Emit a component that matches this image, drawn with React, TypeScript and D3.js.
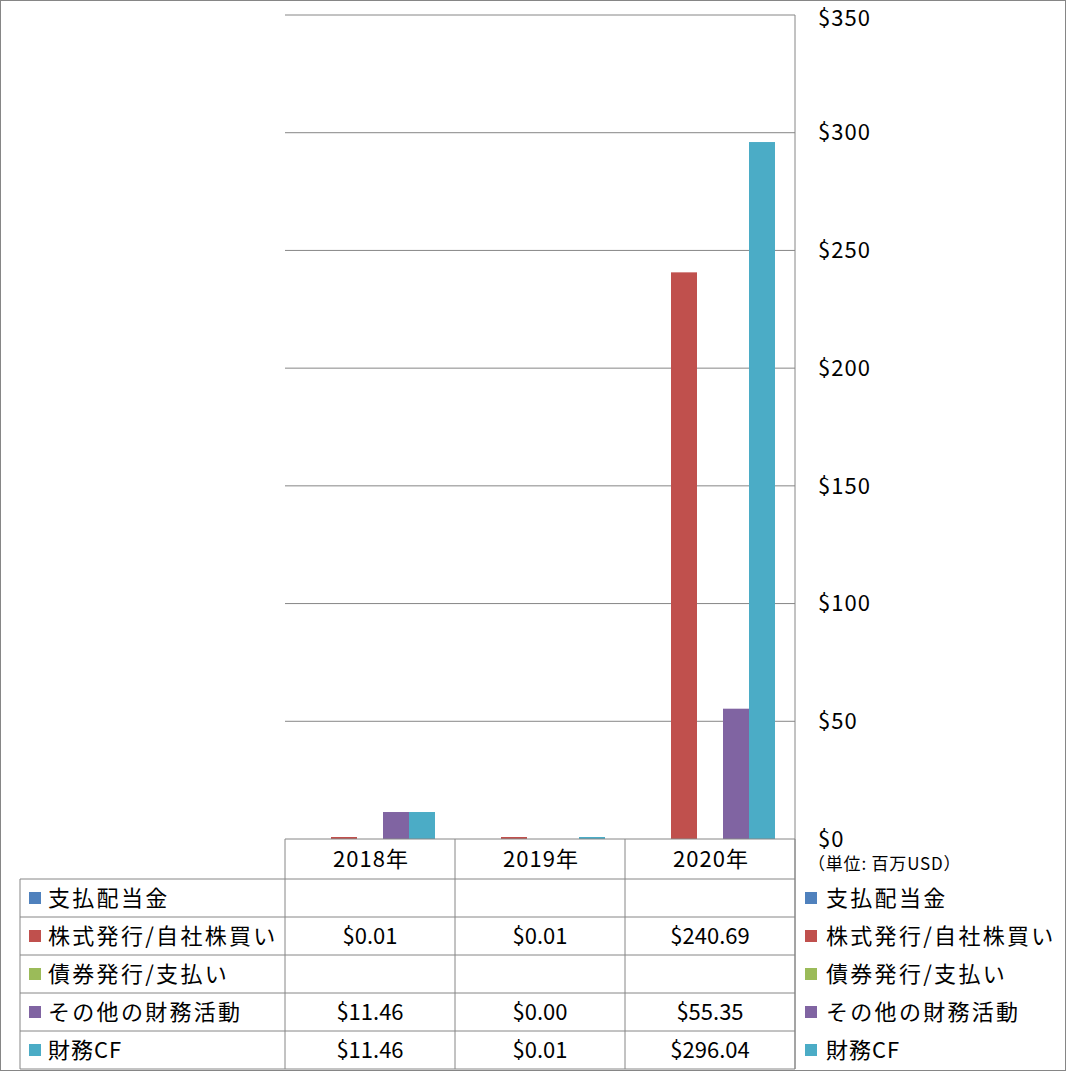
import React from "react";
import * as d3 from "d3";

const categories = ["2018年", "2019年", "2020年"];
const seriesNames = ["支払配当金", "株式発行/自社株買い", "債券発行/支払い", "その他の財務活動", "財務CF"];
const seriesColors = ["#4F81BD", "#C0504D", "#9BBB59", "#8064A2", "#4BACC6"];
const dividends: (number | null)[] = [null, null, null];
const stockIssue: (number | null)[] = [0.01, 0.01, 240.69];
const bonds: (number | null)[] = [null, null, null];
const otherFin: (number | null)[] = [11.46, 0.0, 55.35];
const financeCF: (number | null)[] = [11.46, 0.01, 296.04];
const yTicks = [0, 50, 100, 150, 200, 250, 300, 350];
const unitLabel = "（単位: 百万USD）";

const seriesValues = [dividends, stockIssue, bonds, otherFin, financeCF];

export default function App() {
  const W = 1066, H = 1071;
  const plotLeft = 285, plotRight = 795, plotTop = 15, plotBottom = 839;
  const rowH = 38;
  const headerBottom = 879;
  const tableLeft = 20;
  const tableBottom = headerBottom + rowH * 5;
  const font = "'Noto Sans CJK JP', 'Noto Sans', sans-serif";
  const grid = "#868686";

  const x = d3.scaleBand<string>().domain(categories).range([plotLeft, plotRight]).paddingInner(0).paddingOuter(0);
  const y = d3.scaleLinear().domain([0, 350]).range([plotBottom, plotTop]);
  const x1 = d3.scaleBand<string>().domain(seriesNames).range([20, x.bandwidth() - 20]);

  const fmt = (v: number) => "$" + d3.format(",.2f")(v);

  return (
    <svg width={W} height={H} style={{ display: "block", position: "absolute", left: 0, top: 0 }} fontFamily={font}>
      <rect x={0.5} y={0.5} width={W - 1} height={H - 1} fill="#fff" stroke={grid} />
      {yTicks.map((t) => (
        <g key={t}>
          {t > 0 && <line x1={plotLeft} x2={plotRight} y1={y(t)} y2={y(t)} stroke={grid} strokeWidth={1} />}
          <text x={818} y={Math.max(y(t), 18)} dy="0.35em" fontSize={22} letterSpacing={1} fill="#000">{"$" + t}</text>
        </g>
      ))}
      <text x={808} y={864} dy="0.35em" fontSize={17} letterSpacing={0.8} fill="#000">{unitLabel}</text>
      {categories.map((c, ci) => (
        <g key={c} transform={`translate(${x(c)},0)`}>
          {seriesValues.map((vals, si) => {
            const v = vals[ci];
            if (v == null || v <= 0) return null;
            const h = Math.max(plotBottom - y(v), 2);
            return (
              <rect key={si} x={x1(seriesNames[si])} y={plotBottom - h} width={x1.bandwidth()} height={h} fill={seriesColors[si]} />
            );
          })}
        </g>
      ))}
      <line x1={plotRight} x2={plotRight} y1={plotTop} y2={tableBottom} stroke={grid} />
      <line x1={plotLeft} x2={plotRight} y1={plotBottom} y2={plotBottom} stroke={grid} />
      <line x1={plotLeft} x2={plotLeft} y1={plotBottom} y2={tableBottom} stroke={grid} />
      <line x1={tableLeft} x2={tableLeft} y1={headerBottom} y2={tableBottom} stroke={grid} />
      {categories.map((c) => (
        <g key={c}>
          <line x1={x(c)! + x.bandwidth()} x2={x(c)! + x.bandwidth()} y1={plotBottom} y2={tableBottom} stroke={grid} />
          <text x={x(c)! + x.bandwidth() / 2 + 1} y={859} dy="0.35em" textAnchor="middle" fontSize={22} letterSpacing={1}>{c}</text>
        </g>
      ))}
      {seriesNames.map((s, si) => {
        const top = headerBottom + si * rowH;
        const ls = /[A-Z]/.test(s) ? 1 : 2.3;
        return (
          <g key={s}>
            <line x1={tableLeft} x2={plotRight} y1={top} y2={top} stroke={grid} />
            <rect x={29} y={top + rowH / 2 - 6} width={12} height={12} fill={seriesColors[si]} />
            <text x={48} y={top + rowH / 2} dy="0.35em" fontSize={22} letterSpacing={ls}>{s}</text>
            {categories.map((c, ci) => {
              const v = seriesValues[si][ci];
              return v == null ? null : (
                <text key={c} x={x(c)! + x.bandwidth() / 2} y={top + rowH / 2} dy="0.35em" textAnchor="middle" fontSize={22}>{fmt(v)}</text>
              );
            })}
            <rect x={805} y={top + rowH / 2 - 6} width={12} height={12} fill={seriesColors[si]} />
            <text x={826} y={top + rowH / 2} dy="0.35em" fontSize={22} letterSpacing={ls}>{s}</text>
          </g>
        );
      })}
      <line x1={tableLeft} x2={plotRight} y1={tableBottom} y2={tableBottom} stroke={grid} />
    </svg>
  );
}
